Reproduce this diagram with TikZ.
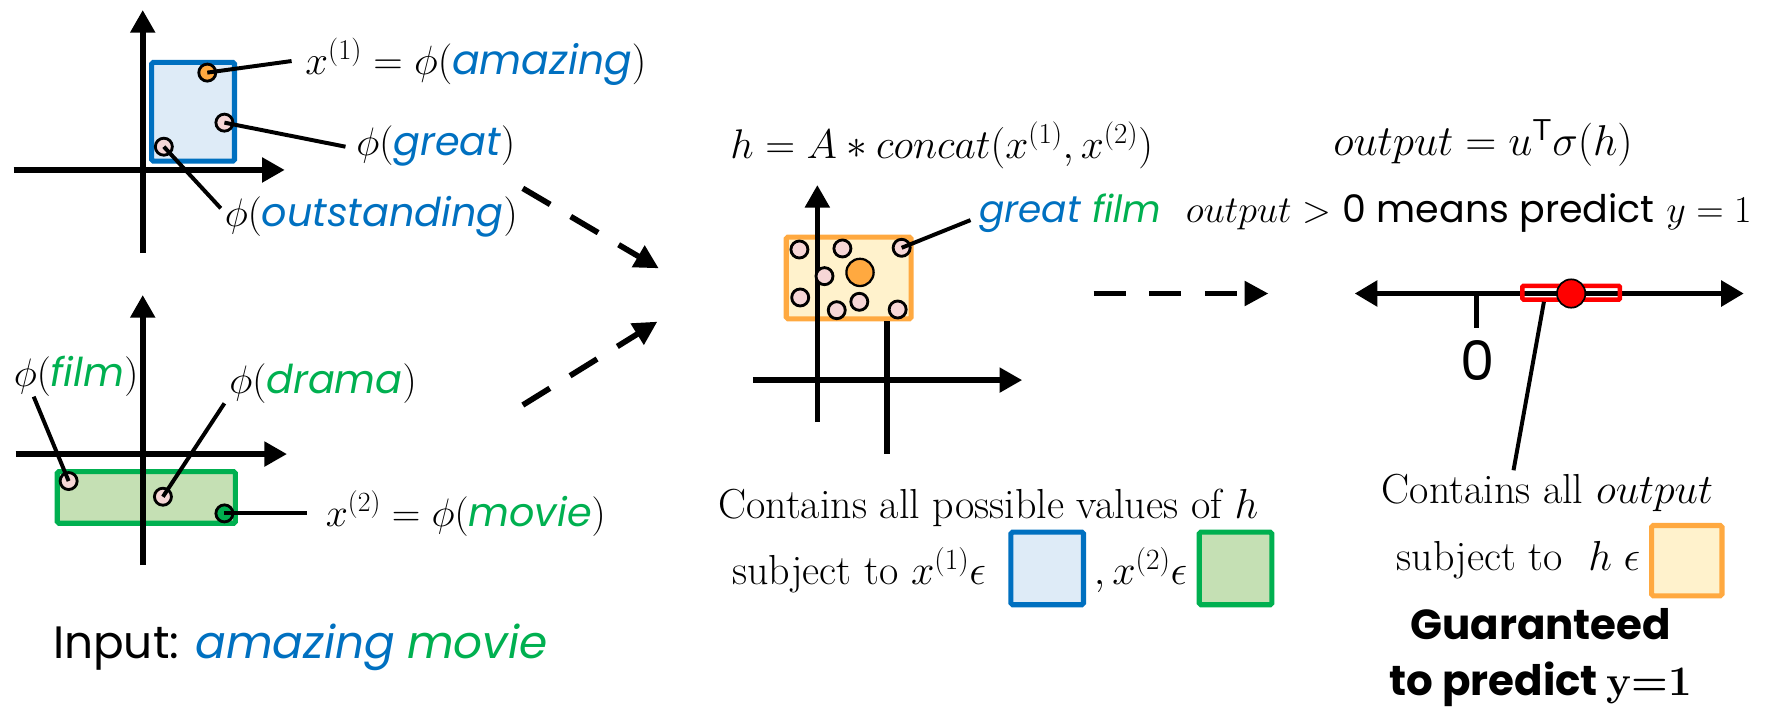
\documentclass[tikz,border=0pt]{standalone}
\usepackage{fix-cm}
\usepackage{fontspec}
\newfontfamily\gothic{Poppins}
\usetikzlibrary{arrows.meta}
\definecolor{wblue}{HTML}{0070C0}
\definecolor{wgreen}{HTML}{00B050}
\definecolor{lblue}{HTML}{DEEBF7}
\definecolor{lgreen}{HTML}{C5E0B4}
\definecolor{borange}{HTML}{FFA940}
\definecolor{lorange}{HTML}{FFF2CC}
\definecolor{dotpink}{HTML}{F6D6D6}
\newcommand{\wb}[1]{\textcolor{wblue}{\gothic\itshape #1}}
\newcommand{\wg}[1]{\textcolor{wgreen}{\gothic\itshape #1}}
\tikzset{
  axis/.style={line width=5pt,-{Triangle[length=20pt,width=21pt]}},
  bare axis/.style={line width=5pt},
  flow/.style={line width=5pt,dash pattern=on 28pt off 21pt,-{Triangle[length=21pt,width=21pt]}},
  leader/.style={line width=3.5pt},
  dot/.style={circle,draw,line width=2.5pt,fill=dotpink,minimum size=15pt,inner sep=0pt},
  mlabel/.style={font=\fontsize{35}{42}\selectfont,inner sep=0pt,anchor=west},
  tlabel/.style={font=\fontsize{37}{44}\selectfont,inner sep=0pt,anchor=west},
  box/.style={draw,line width=4.5pt,rounded corners=1.5pt,inner sep=0pt},
}
\begin{document}
\begin{tikzpicture}[x=1pt,y=-1pt]
  \useasboundingbox (0,0) rectangle (1568,628);
  % first word
  \node[box,draw=wblue,fill=lblue,minimum width=73pt,minimum height=87pt] (bx1) at (170.2,98.5) {};
  \draw[axis] (125.8,223) -- (125.8,8.8);
  \draw[axis] (11.9,149.8) -- (251,149.8);
  \node[dot,fill=borange] (dA) at (182.7,64) {};
  \node[dot] (dG) at (197.8,108.1) {};
  \node[dot] (dO) at (144.4,129.3) {};
  \coordinate (eA) at (257,53.8);
  \coordinate (eG) at (304.5,129.3);
  \coordinate (eO) at (194.6,183.6);
  \draw[leader] (dA.center) -- (eA);
  \draw[leader] (dG.center) -- (eG);
  \draw[leader] (dO.center) -- (eO);
  \node[mlabel,font=\fontsize{36}{42}\selectfont] (lA) at (269,54.4) {$x^{(1)} = \phi($\wb{amazing}$)$};
  \node[mlabel] (lG) at (314,129) {$\phi($\wb{great}$)$};
  \node[mlabel] (lO) at (198,191) {$\phi($\wb{outstanding}$)$};
  % second word
  \node[box,draw=wgreen,fill=lgreen,minimum width=157pt,minimum height=45.5pt] (bx2) at (129,438.4) {};
  \draw[axis] (125.8,498) -- (125.8,260);
  \draw[axis] (13.8,400.2) -- (253,400.2);
  \node[dot] (dF) at (60.5,424) {};
  \node[dot] (dD) at (143.6,437.8) {};
  \node[dot,fill=wgreen] (dM) at (197.8,452.5) {};
  \coordinate (eF) at (29.7,349.6);
  \coordinate (eD) at (197.8,355.5);
  \coordinate (eM) at (271,452.5);
  \draw[leader] (dF.center) -- (eF);
  \draw[leader] (dD.center) -- (eD);
  \draw[leader] (dM.center) -- (eM);
  \node[mlabel] (lF) at (12,332) {$\phi($\wg{film}$)$};
  \node[mlabel] (lD) at (202,338) {$\phi($\wg{drama}$)$};
  \node[mlabel] (lM) at (287,452.5) {$x^{(2)} = \phi($\wg{movie}$)$};
  \node[mlabel,font=\fontsize{40}{48}\selectfont\gothic] (lIn) at (46.6,571) {Input: \wb{amazing} \wg{movie}};
  % flow arrows
  \coordinate (f1s) at (460.8,166);
  \coordinate (f1e) at (580.6,236.5);
  \coordinate (f2s) at (460.8,357);
  \coordinate (f2e) at (579.4,283.5);
  \coordinate (f3s) at (964,258.7);
  \coordinate (f3e) at (1118,258.7);
  \draw[flow] (f1s) -- (f1e);
  \draw[flow] (f2s) -- (f2e);
  \draw[flow] (f3s) -- (f3e);
  % hidden layer
  \node[mlabel,font=\fontsize{36.5}{42}\selectfont] (lH) at (643.6,127.8) {$h = A * concat(x^{(1)},x^{(2)})$};
  \node[box,draw=borange,fill=lorange,minimum width=110pt,minimum height=72pt] (hbx) at (748,245) {};
  \draw[axis] (720.4,372) -- (720.4,163);
  \draw[axis] (663.5,335) -- (901,335);
  \coordinate (hptr) at (782,400);
  \draw[bare axis] (hbx.south -| hptr) -- (hptr);
  \foreach \px/\py [count=\i] in {704.6/219.9,742.5/219,726.7/243.4,705.3/262.2,737.5/273.4,757.4/266,791.2/272.8}
    \node[dot] (dh\i) at (\px,\py) {};
  \node[dot] (dGF) at (794.7,218.4) {};
  \node[dot,fill=borange,minimum size=24pt,line width=2pt] (dhc) at (758,240.1) {};
  \coordinate (eGF) at (855.4,194);
  \draw[leader] (dGF.center) -- (eGF);
  \node[mlabel,font=\fontsize{33}{40}\selectfont] (lGF) at (863,188) {\wb{great} \wg{film}};
  % output
  \node[mlabel,font=\fontsize{38}{44}\selectfont] (lOut) at (1175,126) {$output = u^{\mathsf{T}}\sigma(h)$};
  \node[mlabel,font=\fontsize{33.5}{40}\selectfont] (lPr) at (1045,188) {$output >$ {\gothic 0 means predict} $y = 1$};
  \draw[line width=5pt,{Triangle[length=20pt,width=22pt]}-{Triangle[length=20pt,width=22pt]}] (1194,258.7) -- (1537,258.7);
  \draw[bare axis] (1301.3,259) -- (1301.3,289.5);
  \node[font=\fontsize{48}{56}\selectfont\gothic,inner sep=0pt] (lZero) at (1302,317.5) {0};
  \node[draw=red,line width=4pt,minimum width=86pt,minimum height=12pt,inner sep=0pt,rounded corners=1pt] (ybx) at (1384.8,258) {};
  \node[circle,draw,line width=1.5pt,fill=red,minimum size=25pt,inner sep=0pt] (dy) at (1384.8,258.7) {};
  \coordinate (yptr) at (1334,414.5);
  \draw[leader] ([xshift=-24pt]ybx.south) -- (yptr);
  % bottom texts
  \node[tlabel] (cH1) at (633,448) {Contains all possible values of $h$};
  \node[tlabel] (cH2) at (645,502.4) {subject to $x^{(1)}\epsilon$};
  \node[box,draw=wblue,fill=lblue,minimum size=64pt] (sqb) at (923,501) {};
  \node[tlabel] (cH3) at (964,502.4) {$,x^{(2)}\epsilon$};
  \node[box,draw=wgreen,fill=lgreen,minimum size=64pt] (sqg) at (1089,501) {};
  \node[tlabel] (cY1) at (1217.6,434.8) {Contains all $output$};
  \node[tlabel] (cY2) at (1230.8,493.6) {subject to \ $h\;\epsilon$};
  \node[box,draw=borange,fill=lorange,minimum size=62pt] (sqo) at (1486.7,494.2) {};
  \node[font=\fontsize{37}{49}\selectfont\gothic\bfseries,align=center,inner sep=0pt] (lGu) at (1358,579.4)
    {Guaranteed\\to predict {\rmfamily\bfseries y=1}};
\end{tikzpicture}
\end{document}
